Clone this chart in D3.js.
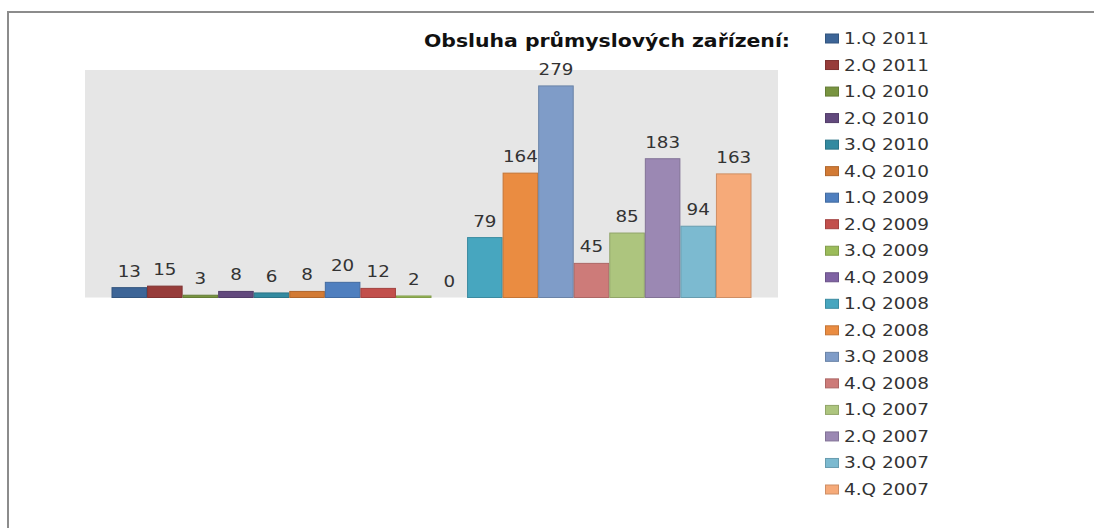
<!DOCTYPE html>
<html>
<head>
<meta charset="utf-8">
<script src="https://cdn.jsdelivr.net/npm/d3@7"></script>
<style>
  body { margin: 0; background: #fff; }
  text { font-family: "DejaVu Sans", sans-serif; }
</style>
</head>
<body>
<div id="chart"></div>
<script>
// Data
const title = "Obsluha průmyslových zařízení:"
const seriesNames = [
  "1.Q 2011", "2.Q 2011", "1.Q 2010", "2.Q 2010", "3.Q 2010", "4.Q 2010",
  "1.Q 2009", "2.Q 2009", "3.Q 2009", "4.Q 2009", "1.Q 2008", "2.Q 2008",
  "3.Q 2008", "4.Q 2008", "1.Q 2007", "2.Q 2007", "3.Q 2007", "4.Q 2007"
]
const values = [13, 15, 3, 8, 6, 8, 20, 12, 2, 0, 79, 164, 279, 45, 85, 183, 94, 163]
const colors = [
  "#3d6597", "#973c3a", "#789440", "#62497d", "#338aa0", "#d27a34",
  "#4f7fbf", "#c24f4c", "#9bbc5a", "#7f62a3", "#47a6bf", "#ea8c41",
  "#7f9cc8", "#cd7b79", "#adc57e", "#9b88b3", "#7cbad0", "#f6aa79"
]
const yMax = 300

// Dimensions
const dims = {
  width: 1094,
  height: 528,
  plotLeft: 85,
  plotRight: 778,
  plotTop: 70,
  plotBottom: 297.5
}
const stretchX = 1.22   // the source picture is widened horizontally

const svg = d3.select("#chart")
  .append("svg")
  .attr("width", dims.width)
  .attr("height", dims.height)

// outer frame (runs off the right and bottom edges)
svg.append("rect")
  .attr("x", 8).attr("y", 12)
  .attr("width", 1200).attr("height", 700)
  .attr("fill", "none")
  .attr("stroke", "#8c8c8c")
  .attr("stroke-width", 2)

// plot area
svg.append("rect")
  .attr("x", dims.plotLeft)
  .attr("y", dims.plotTop)
  .attr("width", dims.plotRight - dims.plotLeft)
  .attr("height", dims.plotBottom - dims.plotTop)
  .attr("fill", "#e6e6e6")

// Scales
const gap = 26.5
const xScale = d3.scaleBand()
  .domain(seriesNames)
  .range([dims.plotLeft + gap, dims.plotRight - gap])
  .paddingInner(0)

const yScale = d3.scaleLinear()
  .domain([0, yMax])
  .range([dims.plotBottom, dims.plotTop])

const data = seriesNames.map((name, i) => ({ name, value: values[i], color: colors[i] }))

// Bars
svg.append("g")
  .selectAll("rect")
  .data(data)
  .join("rect")
  .attr("x", d => xScale(d.name) + 0.5)
  .attr("y", d => yScale(d.value))
  .attr("width", xScale.bandwidth() - 1)
  .attr("height", d => yScale(0) - yScale(d.value))
  .attr("fill", d => d.color)
  .attr("stroke", d => d3.color(d.color).darker(0.5))
  .attr("stroke-width", 1)

// Data labels
svg.append("g")
  .selectAll("g")
  .data(data)
  .join("g")
  .attr("transform", d => `translate(${xScale(d.name) + xScale.bandwidth() / 2}, ${yScale(d.value) - 11}) scale(${stretchX}, 1)`)
  .append("text")
  .attr("text-anchor", "middle")
  .attr("font-size", 15)
  .attr("fill", "#333")
  .text(d => d.value)

// Title
svg.append("g")
  .attr("transform", `translate(607, 46.5) scale(1.2, 1)`)
  .append("text")
  .attr("text-anchor", "middle")
  .attr("font-size", 17)
  .attr("font-weight", "bold")
  .attr("fill", "#111")
  .text(title)

// Legend
const legendY = d3.scalePoint()
  .domain(seriesNames)
  .range([38.5, 489.5])

const legend = svg.append("g")
  .selectAll("g")
  .data(data)
  .join("g")
  .attr("transform", d => `translate(825, ${legendY(d.name)})`)

legend.append("rect")
  .attr("x", 0.5).attr("y", -4.5)
  .attr("width", 13).attr("height", 9)
  .attr("fill", d => d.color)
  .attr("stroke", d => d3.color(d.color).darker(0.5))

legend.append("g")
  .attr("transform", `translate(19, 5.5) scale(1.23, 1)`)
  .append("text")
  .attr("font-size", 15)
  .attr("fill", "#333")
  .text(d => d.name)
</script>
</body>
</html>
